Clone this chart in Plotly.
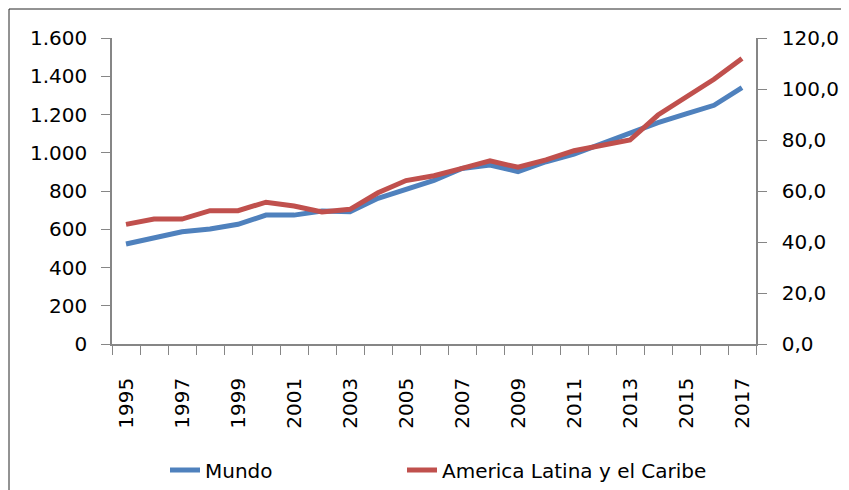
import plotly.graph_objects as go

years = list(range(1995, 2018))
mundo = [523, 554, 587, 601, 626, 674, 674, 695, 692, 762, 809, 855, 918, 936, 901, 953, 993, 1049, 1101, 1157, 1203, 1248, 1340]
alc = [46.9, 49.0, 49.0, 52.3, 52.3, 55.6, 54.1, 51.8, 52.8, 59.3, 64.1, 66.0, 68.9, 71.8, 69.3, 72.2, 75.8, 78.0, 80.0, 89.8, 97.0, 103.8, 112.0]
year_labels = [str(y) for y in years[::2]]
left_ticks = [0, 200, 400, 600, 800, 1000, 1200, 1400, 1600]
right_ticks = [0, 20, 40, 60, 80, 100, 120]

FONT = "DejaVu Sans"
AX = "#868686"

# page body has an 8px margin, so figure pixel = page pixel - 8
fig = go.Figure()
fig.add_trace(go.Scatter(x=years, y=mundo, name="Mundo", mode="lines",
                         line=dict(color="#4F81BD", width=5), yaxis="y", legendwidth=192))
fig.add_trace(go.Scatter(x=years, y=alc, name="America Latina y el Caribe", mode="lines",
                         line=dict(color="#C0504D", width=5), yaxis="y2", legendwidth=300))

fig.update_layout(
    width=841, height=482,
    margin=dict(l=104, r=93, t=30, b=146),
    paper_bgcolor="white", plot_bgcolor="white",
    separators=",.",
    font=dict(family=FONT, size=20, color="black"),
    showlegend=True,
    legend=dict(orientation="h", xref="paper", x=(165 - 112) / 644, xanchor="left",
                yref="container", y=1 - (470 - 8) / 482, yanchor="middle",
                font=dict(size=20), bgcolor="rgba(0,0,0,0)"),
    xaxis=dict(range=[1994.5, 2017.5], tickvals=years[::2], ticktext=year_labels,
               tickangle=-90, ticks="outside", ticklen=9, tickcolor="rgba(0,0,0,0)",
               showgrid=False, zeroline=False,
               showline=True, linecolor=AX, linewidth=1.5, automargin=False, ticklabelstandoff=15,
               minor=dict(tick0=1994.5, dtick=1, ticks="outside", ticklen=9, tickcolor=AX, showgrid=False)),
    yaxis=dict(range=[0, 1600], tickvals=left_ticks, tickformat=",d", ticks="outside", ticklen=9,
               tickcolor=AX, showgrid=False, zeroline=False, showline=True, linecolor=AX, linewidth=1.5,
               ticklabelstandoff=10, automargin=False),
    yaxis2=dict(range=[0, 120], tickvals=right_ticks, tickformat=".1f", overlaying="y", side="right",
                ticks="outside", ticklen=9, tickcolor=AX, showgrid=False, zeroline=False,
                showline=True, linecolor=AX, linewidth=1.5, ticklabelstandoff=11, automargin=False),
    shapes=[dict(type="rect", xref="paper", yref="paper", x0=(1 - 104) / 644, x1=(870 - 104) / 644,
                 y0=(336 - 520) / 306, y1=(336 - 1) / 306, line=dict(color="#262626", width=1), layer="below")],
)

fig.write_html("out.html", config={"displayModeBar": False})
